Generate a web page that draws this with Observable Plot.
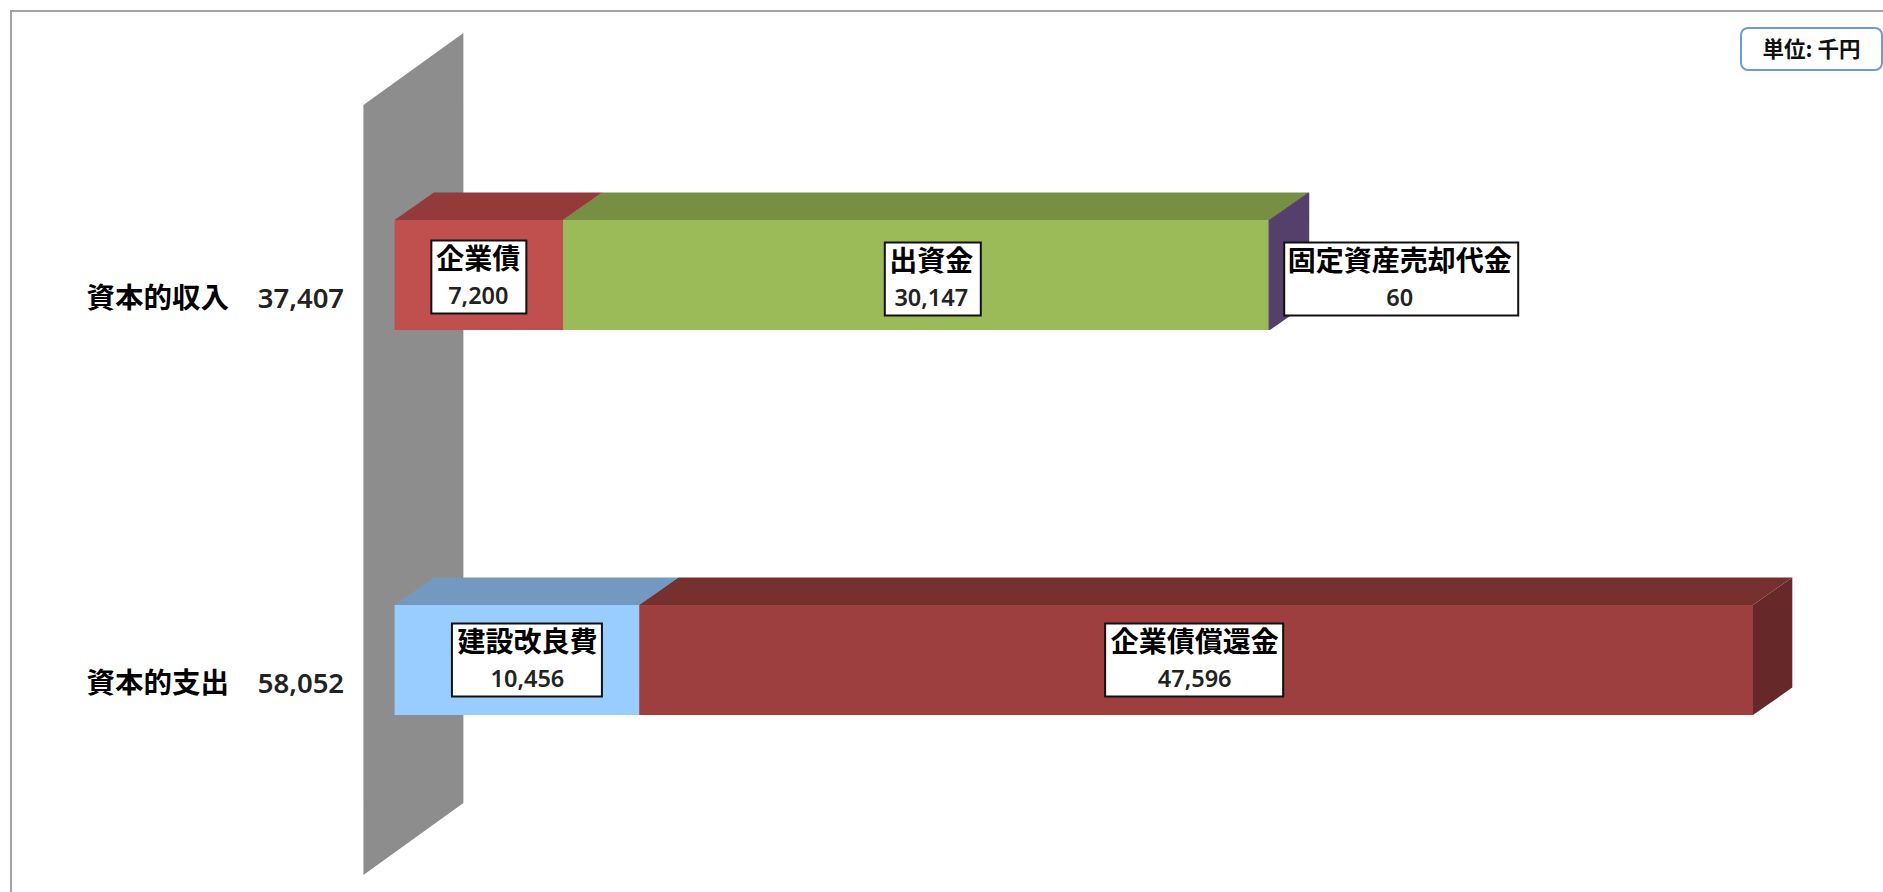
<!DOCTYPE html>
<html>
<head>
<meta charset="utf-8">
<script src="https://cdn.jsdelivr.net/npm/d3@7"></script>
<script src="https://cdn.jsdelivr.net/npm/@observablehq/plot@0.6"></script>
<style>
  html,body{margin:0;padding:0;background:#fff;width:1883px;height:892px;overflow:hidden}
  #wrap{position:relative;width:1883px;height:892px}
  #frame{position:absolute;left:10px;top:10px;right:0;bottom:0;border-left:2px solid #a3a3a3;border-top:2px solid #a3a3a3}
  #unit{position:absolute;left:1740px;top:27px;width:139px;height:40px;box-sizing:content-box;border:2px solid #6f9bd3;border-radius:8px;background:#fff;
        font:bold 21.5px "Noto Sans CJK JP";line-height:38px;text-align:center;color:#111}
  svg{position:absolute;left:0;top:0}
</style>
</head>
<body>
<div id="wrap"><div id="frame"></div><div id="unit">単位: 千円</div></div>
<script>
// --- data ---
const rowNames   = ["資本的収入", "資本的支出"];
const rowTotals  = [37407, 58052];
const itemNames  = ["企業債", "出資金", "固定資産売却代金", "建設改良費", "企業債償還金"];
const itemRows   = [0, 0, 0, 1, 1];
const itemValues = [7200, 30147, 60, 10456, 47596];

// --- styles ---
const faceColors = ["#C0504D", "#9BBB59", "#5A4070", "#99CCFF", "#9C3F3E"];
const topColors  = ["#933B3A", "#778F43", "#574368", "#7399C0", "#76302E"];
const sideColors = ["#933B3A", "#778F43", "#553F6B", "#7399C0", "#67282A"];
const labelShift = [0, 17, 132, 10, -2];     // label box offset from segment middle (px)
const labelWidth = [95, 96, 234, 150, 178];  // label box width (px)
const labelRise  = [2, 4, 4, 0, 0];          // label box offset from row middle (px)
const textShift  = [-1, -2, -2, 0, 0];       // text offset inside its box (px)

// --- layout in scale units ---
const depthX = 1680;          // oblique depth along x
const depthY = 0.0714;        // oblique depth along y
const barHalf = 0.1429;       // half bar thickness along y
const wallLeft = -1333, wallRight = 2940;
const wallTop = -0.4416, wallBottom = 1.5584;
const boxHalf = 0.0948;

const segs = [];
const running = [0, 0];
itemNames.forEach((name, i) => {
  const r = itemRows[i], s = running[r], e = s + itemValues[i];
  running[r] = e;
  segs.push({i, name, row: r, s, e, value: itemValues[i], mid: (s + e) / 2});
});
const rows = rowNames.map((name, i) => ({name, row: i, total: rowTotals[i]}));
const fmt = d3.format(",");

const topFace = d => Plot.areaX(
  [{a: d.s, b: d.e, y: d.row - barHalf},
   {a: d.s + depthX, b: d.e + depthX, y: d.row - barHalf - depthY}],
  {x1: "a", x2: "b", y: "y", fill: topColors[d.i]});
const sideFace = d => Plot.areaY(
  [{x: d.e, t: d.row - barHalf, b: d.row + barHalf},
   {x: d.e + depthX, t: d.row - barHalf - depthY, b: d.row + barHalf - depthY}],
  {x: "x", y1: "t", y2: "b", fill: sideColors[d.i]});

const chart = Plot.plot({
  width: 1883, height: 892,
  marginLeft: 0, marginRight: 0, marginTop: 0, marginBottom: 0,
  x: {type: "linear", domain: [0, 58052], range: [394.6, 1753], axis: null},
  y: {type: "linear", domain: [0, 1], range: [275, 660], axis: null},
  color: {type: "ordinal", domain: itemNames, range: faceColors},
  style: {fontFamily: "'Noto Sans CJK JP'", background: "transparent", overflow: "visible"},
  marks: [
    // back wall
    Plot.areaY(
      [{x: wallLeft, t: wallTop, b: wallBottom},
       {x: wallRight, t: wallTop - 0.187, b: wallBottom - 0.187}],
      {x: "x", y1: "t", y2: "b", fill: "#8d8d8d"}),
    // bar faces
    ...segs.map(sideFace),
    ...segs.map(topFace),
    Plot.rect(segs, {x1: "s", x2: "e", y1: d => d.row - barHalf, y2: d => d.row + barHalf, fill: "name"}),
    // label boxes
    Plot.rect(segs, {
      x1: d => d.mid + (labelShift[d.i] - labelWidth[d.i] / 2) / 0.0234,
      x2: d => d.mid + (labelShift[d.i] + labelWidth[d.i] / 2) / 0.0234,
      y1: d => d.row + labelRise[d.i] / 385 - boxHalf,
      y2: d => d.row + labelRise[d.i] / 385 + boxHalf,
      fill: "#fff", stroke: "#111", strokeWidth: 2
    }),
    Plot.text(segs, {
      x: d => d.mid + (labelShift[d.i] + textShift[d.i]) / 0.0234,
      y: d => d.row + labelRise[d.i] / 385,
      text: "name", dy: -17, fontSize: 28, fontWeight: "bold", fill: "#000"
    }),
    Plot.text(segs, {
      x: d => d.mid + (labelShift[d.i] + textShift[d.i]) / 0.0234,
      y: d => d.row + labelRise[d.i] / 385,
      text: d => fmt(d.value), dy: 19, fontSize: 23.5, fontWeight: 600,
      fontFamily: "'Noto Sans'", fill: "#222"
    }),
    // category labels
    Plot.text(rows, {
      x: 0, y: "row", text: "name", textAnchor: "end", dx: -166, dy: 23,
      fontSize: 28.5, fontWeight: "bold", fill: "#000"
    }),
    Plot.text(rows, {
      x: 0, y: "row", text: d => fmt(d.total), textAnchor: "end", dx: -51, dy: 24,
      fontSize: 27.5, fontWeight: 600, fontFamily: "'Noto Sans'", fill: "#222"
    })
  ]
});
document.getElementById("wrap").appendChild(chart);
</script>
</body>
</html>
